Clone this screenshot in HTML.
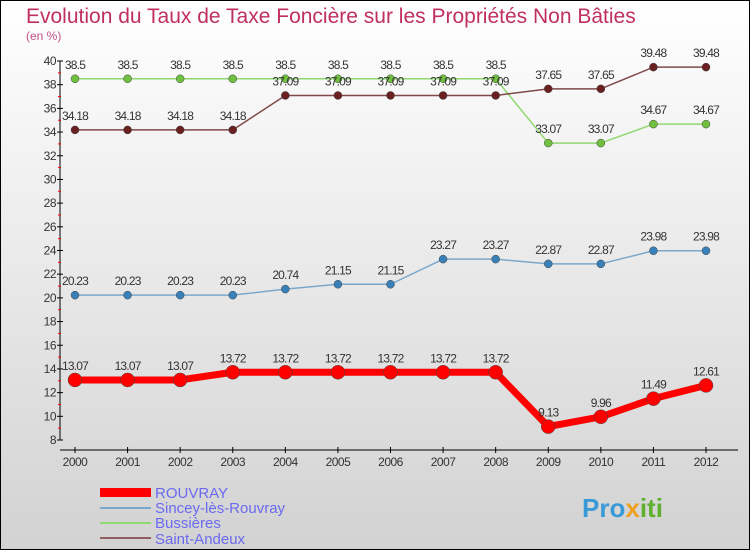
<!DOCTYPE html>
<html><head><meta charset="utf-8"><style>
body{margin:0;width:750px;height:550px;overflow:hidden}
svg{display:block;font-family:"Liberation Sans",sans-serif}
</style></head><body>
<svg id="chart" width="750" height="550" viewBox="0 0 750 550">
<defs><linearGradient id="bg" x1="0" y1="0" x2="0" y2="1"><stop offset="0" stop-color="#ffffff"/><stop offset="1" stop-color="#d2d2d2"/></linearGradient></defs>
<rect x="0.5" y="0.5" width="749" height="549" fill="url(#bg)" stroke="#000"/>
<text x="26" y="23" font-size="21" fill="#c0305e">Evolution du Taux de Taxe Foncière sur les Propriétés Non Bâties</text>
<text x="26" y="40" font-size="12" fill="#c0508a">(en %)</text>
<g id="axes"></g><g id="series"></g>
<g>
<rect x="100" y="488" width="51" height="9" fill="#f00"/>
<text x="155" y="498" font-size="15" fill="#6a6af0">ROUVRAY</text>
<rect x="100" y="507" width="51" height="2" fill="#7aa8cc"/>
<text x="155" y="513" font-size="15" fill="#6a6af0">Sincey-lès-Rouvray</text>
<rect x="100" y="522" width="51" height="2" fill="#90d870"/>
<text x="155" y="528" font-size="15" fill="#6a6af0">Bussières</text>
<rect x="100" y="537" width="51" height="2" fill="#906060"/>
<text x="155" y="544" font-size="15" fill="#6a6af0">Saint-Andeux</text>
</g>
<g><text x="582" y="517" font-size="26" font-weight="bold" fill="#3a9ad8">Pro<tspan fill="#f0a020">x</tspan><tspan fill="#60b030">iti</tspan></text></g>
</svg>
<script>
const years=[2000,2001,2002,2003,2004,2005,2006,2007,2008,2009,2010,2011,2012];
const yTicks=[8,10,12,14,16,18,20,22,24,26,28,30,32,34,36,38,40];
const rouvray=[13.07,13.07,13.07,13.72,13.72,13.72,13.72,13.72,13.72,9.13,9.96,11.49,12.61];
const sincey=[20.23,20.23,20.23,20.23,20.74,21.15,21.15,23.27,23.27,22.87,22.87,23.98,23.98];
const bussieres=[38.5,38.5,38.5,38.5,38.5,38.5,38.5,38.5,38.5,33.07,33.07,34.67,34.67];
const andeux=[34.18,34.18,34.18,34.18,37.09,37.09,37.09,37.09,37.09,37.65,37.65,39.48,39.48];
const NS="http://www.w3.org/2000/svg";
const x=i=>75+i*(706-75)/12;
const y=v=>440-(v-8)*(440-61)/32;
function el(t,a,p,name){const e=document.createElementNS(NS,t);for(const k in a)e.setAttribute(k,a[k]);


p.appendChild(e);return e;}
const ax=document.getElementById('axes'),se=document.getElementById('series');
el('line',{x1:60,y1:61,x2:60,y2:440,stroke:'#000'},ax,'y-axis');
el('line',{x1:60,y1:450,x2:738,y2:450,stroke:'#000'},ax,'x-axis');
yTicks.forEach((v,i)=>{el('line',{x1:57,y1:y(v),x2:63,y2:y(v),stroke:'#000'},ax,'y-tick');
if(i<yTicks.length-1)el('line',{x1:58,y1:y(v+1),x2:61,y2:y(v+1),stroke:'#f00'},ax,'y-minor-tick');
const t=el('text',{x:56,y:y(v)+4,'font-size':12,'text-anchor':'end',fill:'#333','letter-spacing':'-0.5'},ax,'y-tick-label');t.textContent=v;});
years.forEach((yr,i)=>{el('line',{x1:x(i),y1:447,x2:x(i),y2:453,stroke:'#000'},ax,'x-tick');
const t=el('text',{x:x(i),y:466,'font-size':12,'text-anchor':'middle',fill:'#333','letter-spacing':'-0.5'},ax,'x-tick-label');t.textContent=yr;});
function draw(data,color,dot,w,r,name){
el('polyline',{points:data.map((v,i)=>x(i)+','+y(v)).join(' '),fill:'none',stroke:color,'stroke-width':w,'stroke-linejoin':'round'},se,name+'-line');
data.forEach((v,i)=>{el('circle',{cx:x(i),cy:y(v),r:r,fill:dot,stroke:'#444','stroke-width':0.5},se,name+'-point');
const t=el('text',{x:x(i),y:y(v)-10,'font-size':12,'text-anchor':'middle',fill:'#333','letter-spacing':'-0.8'},se,name+'-value-label');t.textContent=v;});}
draw(bussieres,'#90d870','#70c040',1.5,4,'bussieres');
draw(andeux,'#804848','#6a2020',1.5,4,'saint-andeux');
draw(sincey,'#7aa8cc','#3a80b8',1.5,4,'sincey');
draw(rouvray,'#f00','#f00',7,7,'rouvray');
</script>
</body></html>
